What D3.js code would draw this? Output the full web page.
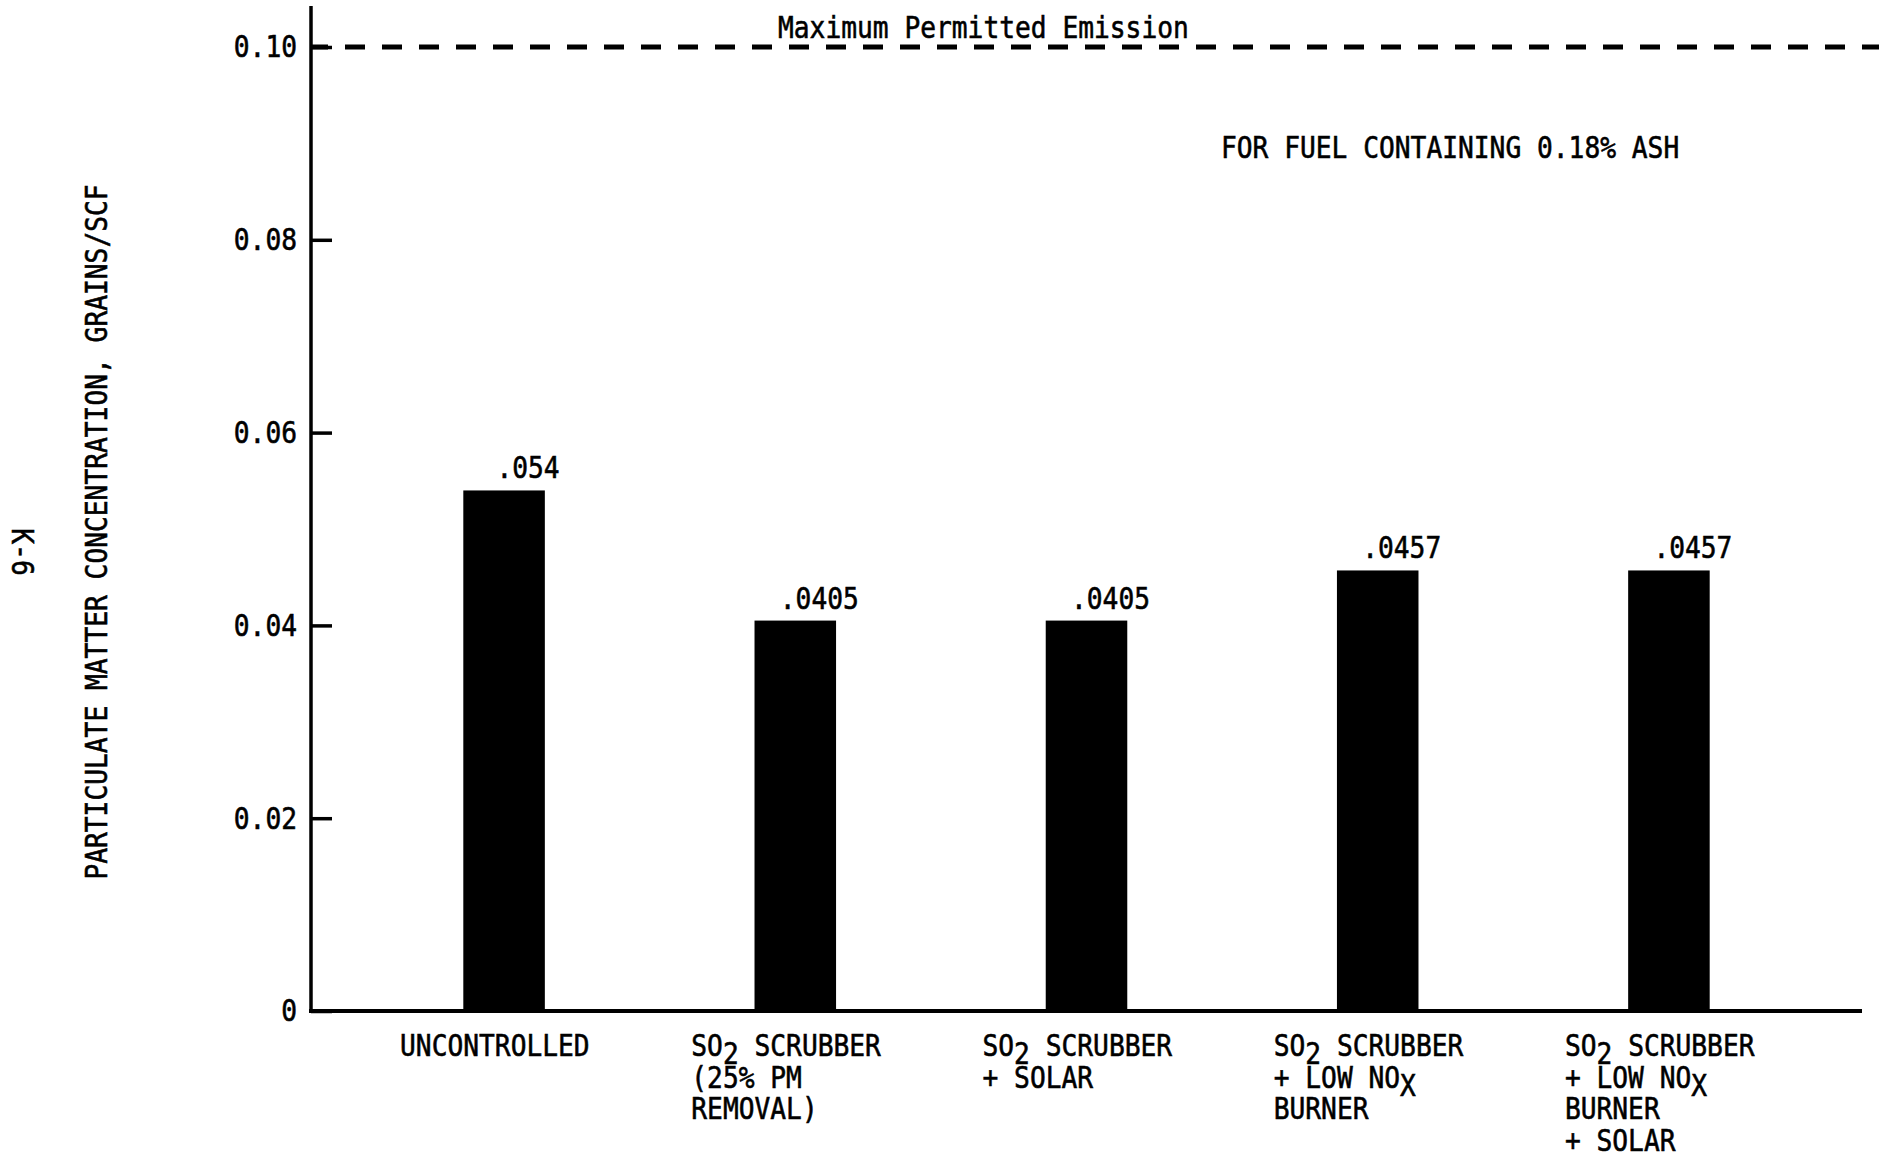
<!DOCTYPE html>
<html>
<head>
<meta charset="utf-8">
<script src="https://cdn.jsdelivr.net/npm/d3@7"></script>
<style>
  html, body { margin: 0; padding: 0; background: #fff; }
  svg { display: block; }
  text { white-space: pre; }
</style>
</head>
<body>
<svg id="chart" width="1879" height="1161"></svg>
<script>
// Particulate matter emissions by control option
const categories = [
  "UNCONTROLLED",
  "SO2 SCRUBBER (25% PM REMOVAL)",
  "SO2 SCRUBBER + SOLAR",
  "SO2 SCRUBBER + LOW NOx BURNER",
  "SO2 SCRUBBER + LOW NOx BURNER + SOLAR"
];
// Typed label lines; "_" lowers the following character as a subscript
const categoryLines = [
  ["UNCONTROLLED"],
  ["SO_2 SCRUBBER", "(25% PM", "REMOVAL)"],
  ["SO_2 SCRUBBER", "+ SOLAR"],
  ["SO_2 SCRUBBER", "+ LOW NO_X", "BURNER"],
  ["SO_2 SCRUBBER", "+ LOW NO_X", "BURNER", "+ SOLAR"]
];
const values = [0.054, 0.0405, 0.0405, 0.0457, 0.0457];
const valueLabels = [".054", ".0405", ".0405", ".0457", ".0457"];
const yTicks = [0, 0.02, 0.04, 0.06, 0.08, 0.10];
const permittedLimit = 0.10;

const FONT = "'DejaVu Sans Mono', 'Liberation Mono', monospace";
const FONT_SIZE = 31;
const PITCH = 15.8;      // typewriter character pitch
const SUB_DROP = 8;      // subscript drop
const INK = 0.6;         // extra stroke to give the typed look more weight

const svg = d3.select("#chart");

const x = d3.scaleBand()
  .domain(d3.range(categories.length))
  .range([311, 1862])
  .paddingInner(0.72)
  .paddingOuter(0.523);

const y = d3.scaleLinear()
  .domain([0, 0.10])
  .range([1011, 47]);

const x0 = x.range()[0];
const bw = x.bandwidth();

function inkText(sel) {
  return sel
    .attr("font-family", FONT)
    .attr("font-size", FONT_SIZE)
    .attr("fill", "#000")
    .attr("stroke", "#000")
    .attr("stroke-width", INK);
}

// Write a line of monospaced text, squeezed to the typewriter pitch
function typeLine(parent, str, px, py, anchor) {
  const t = inkText(parent.append("text")
    .attr("x", px).attr("y", py)
    .attr("text-anchor", anchor || "start"));
  const parts = str.split(/(_.)/).filter(p => p.length);
  let shift = 0, count = 0;
  parts.forEach(p => {
    const sub = p[0] === "_";
    const txt = sub ? p.slice(1) : p;
    const target = sub ? SUB_DROP : 0;
    t.append("tspan").attr("dy", target - shift).text(txt);
    shift = target;
    count += txt.length;
  });
  t.attr("textLength", count * PITCH).attr("lengthAdjust", "spacingAndGlyphs");
  return t;
}

// Y axis with inward ticks
const yAxis = d3.axisLeft(y)
  .tickValues(yTicks)
  .tickSizeInner(-21)
  .tickSizeOuter(0)
  .tickPadding(14)
  .tickFormat(d => d === 0 ? "0" : d3.format(".2f")(d));

const gy = svg.append("g")
  .attr("transform", `translate(${x0},0)`)
  .call(yAxis);
gy.select(".domain").remove();
gy.selectAll(".tick line").attr("stroke", "#000").attr("stroke-width", 3.5);
inkText(gy.selectAll(".tick text"))
  .each(function () {
    const s = d3.select(this);
    s.attr("textLength", s.text().length * PITCH).attr("lengthAdjust", "spacingAndGlyphs");
  });

// Axis lines
svg.append("line")
  .attr("x1", x0).attr("x2", x0)
  .attr("y1", 6).attr("y2", y(0) + 2)
  .attr("stroke", "#000").attr("stroke-width", 3.5);
svg.append("line")
  .attr("x1", x0 - 2).attr("x2", x.range()[1])
  .attr("y1", y(0)).attr("y2", y(0))
  .attr("stroke", "#000").attr("stroke-width", 4);

// Maximum permitted emission line
svg.append("line")
  .attr("x1", x0).attr("x2", 1879)
  .attr("y1", y(permittedLimit)).attr("y2", y(permittedLimit))
  .attr("stroke", "#000").attr("stroke-width", 5)
  .attr("stroke-dasharray", "20 17")
  .attr("stroke-dashoffset", 3);

typeLine(svg, "Maximum Permitted Emission", 778, y(permittedLimit) - 9, "start");
typeLine(svg, "FOR FUEL CONTAINING 0.18% ASH", 1221, 158, "start");

// Bars
svg.append("g").selectAll("rect")
  .data(values)
  .join("rect")
  .attr("x", (d, i) => x(i))
  .attr("y", d => y(d))
  .attr("width", bw)
  .attr("height", d => y(0) - y(d))
  .attr("fill", "#000");

// Value labels
values.forEach((v, i) => {
  typeLine(svg, valueLabels[i], x(i) + bw / 2 + 24, y(v) - 12, "middle");
});

// Category labels
categoryLines.forEach((lines, i) => {
  lines.forEach((ln, j) => {
    typeLine(svg, ln, x(i) + bw / 2 - 104, 1056 + j * 31.5, "start");
  });
});

// Y axis title
const yTitle = typeLine(svg, "PARTICULATE MATTER CONCENTRATION, GRAINS/SCF", 0, 0, "middle");
yTitle.attr("x", null).attr("y", null).attr("transform", "translate(107,532) rotate(-90)");

// Page number
const page = typeLine(svg, "K-6", 0, 0, "middle");
page.attr("x", null).attr("y", null).attr("transform", "translate(12,552) rotate(90)");
</script>
</body>
</html>
